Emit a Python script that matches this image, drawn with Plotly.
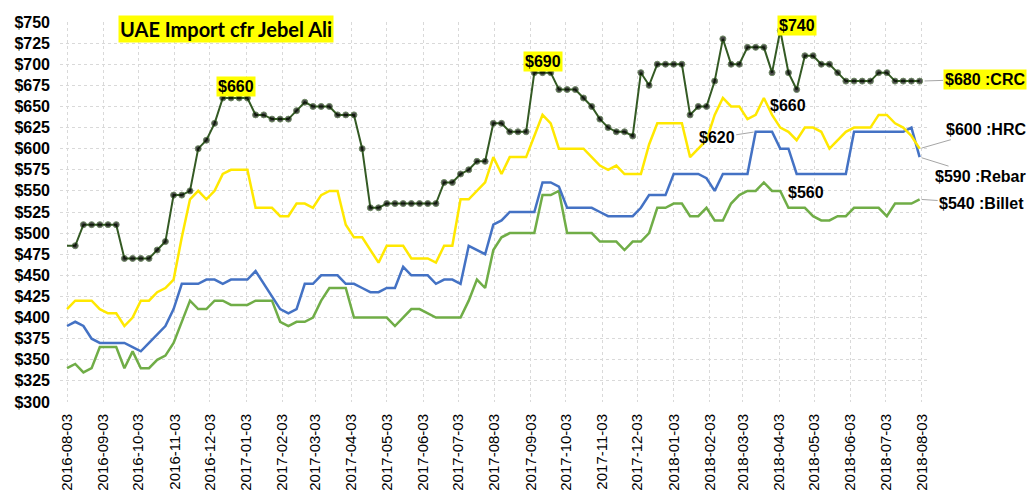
import plotly.graph_objects as go
import pandas as pd

# ---------------- data (weekly, starting 2016-08-03) ----------------
START_DATE = "2016-08-03"

crc = [485, 485, 510, 510, 510, 510, 510, 470, 470, 470,
       470, 480, 490, 545, 545, 550, 600, 610, 630, 660,
       660, 660, 660, 640, 640, 635, 635, 635, 645, 655,
       650, 650, 650, 640, 640, 640, 600, 530, 530, 535,
       535, 535, 535, 535, 535, 535, 560, 560, 570, 575,
       585, 585, 630, 630, 620, 620, 620, 690, 690, 690,
       670, 670, 670, 660, 650, 635, 625, 620, 620, 615,
       690, 675, 700, 700, 700, 700, 640, 650, 650, 680,
       730, 700, 700, 720, 720, 720, 690, 740, 690, 670,
       710, 710, 700, 700, 690, 680, 680, 680, 680, 690,
       690, 680, 680, 680, 680]

hrc = [410, 420, 420, 420, 410, 405, 405, 390, 400, 420,
       420, 430, 435, 445, 495, 540, 550, 540, 550, 570,
       575, 575, 575, 530, 530, 530, 520, 520, 535, 535,
       530, 545, 550, 550, 510, 495, 495, 480, 465, 485,
       485, 485, 470, 470, 470, 465, 485, 485, 540, 540,
       550, 560, 590, 570, 590, 590, 590, 615, 640, 630,
       600, 600, 600, 600, 590, 580, 575, 580, 570, 570,
       570, 605, 630, 630, 630, 630, 590, 600, 610, 640,
       660, 650, 650, 635, 640, 660, 640, 625, 620, 610,
       625, 625, 620, 600, 610, 620, 625, 625, 625, 640,
       640, 630, 625, 615, 600]

rebar = [390, 395, 390, 375, 370, 370, 370, 370, 365, 360,
         370, 380, 390, 410, 440, 440, 440, 445, 445, 440,
         445, 445, 445, 455, 440, 425, 410, 405, 410, 440,
         440, 450, 450, 450, 440, 440, 435, 430, 430, 435,
         435, 460, 450, 450, 450, 440, 445, 445, 440, 485,
         480, 475, 510, 515, 525, 525, 525, 525, 560, 560,
         555, 530, 530, 530, 530, 525, 520, 520, 520, 520,
         530, 545, 545, 545, 570, 570, 570, 570, 565, 550,
         570, 570, 570, 570, 620, 620, 620, 600, 600, 570,
         570, 570, 570, 570, 570, 570, 620, 620, 620, 620,
         620, 620, 620, 625, 590]

billet = [340, 345, 335, 340, 365, 365, 365, 340, 360, 340,
          340, 350, 355, 370, 395, 420, 410, 410, 420, 420,
          415, 415, 415, 420, 420, 420, 395, 390, 395, 395,
          400, 420, 435, 435, 435, 400, 400, 400, 400, 400,
          390, 400, 410, 410, 405, 400, 400, 400, 400, 420,
          445, 435, 480, 495, 500, 500, 500, 500, 545, 545,
          550, 500, 500, 500, 500, 490, 490, 490, 480, 490,
          490, 500, 530, 530, 535, 535, 520, 520, 530, 515,
          515, 535, 545, 550, 550, 560, 550, 550, 530, 530,
          530, 520, 515, 515, 520, 520, 530, 530, 530, 530,
          520, 535, 535, 535, 540]

dates = pd.date_range(START_DATE, periods=len(crc), freq="7D")

# ---------------- styling ----------------
FONT = "Liberation Sans"
C_CRC = "#345A24"
C_HRC = "#FFE800"
C_REBAR = "#4472C4"
C_BILLET = "#70AD47"
HILITE = "#FFFF00"
LEADER = "#A6A6A6"

fig = go.Figure()
fig.add_trace(go.Scatter(x=dates, y=billet, mode="lines", name="Billet",
                         line=dict(color=C_BILLET, width=2.5)))
fig.add_trace(go.Scatter(x=dates, y=rebar, mode="lines", name="Rebar",
                         line=dict(color=C_REBAR, width=2.5)))
fig.add_trace(go.Scatter(x=dates, y=hrc, mode="lines", name="HRC",
                         line=dict(color=C_HRC, width=2.5)))
fig.add_trace(go.Scatter(x=dates, y=crc, mode="lines+markers", name="CRC",
                         line=dict(color=C_CRC, width=2),
                         marker=dict(color="black", size=[0] + [6] * (len(crc) - 1))))

bold16 = dict(family=FONT, size=16, color="black")

ann = []
# title
ann.append(dict(xref="paper", yref="paper", x=0.1905, y=0.981,
                xanchor="center", yanchor="middle",
                text="<b>UAE Import cfr Jebel Ali</b>", showarrow=False,
                font=dict(family="Lato", size=20, color="black"),
                bgcolor=HILITE, borderpad=1))
# peak labels (highlighted)
ann.append(dict(x=dates[20], y=crc[20], text="<b>$660</b>", showarrow=False,
                xanchor="center", yanchor="bottom", xshift=5, yshift=1,
                font=bold16, bgcolor=HILITE, borderpad=1))
ann.append(dict(x=dates[58], y=crc[58], text="<b>$690</b>", showarrow=False,
                xanchor="center", yanchor="bottom", yshift=1,
                font=bold16, bgcolor=HILITE, borderpad=1))
ann.append(dict(x=dates[87], y=crc[87], text="<b>$740</b>", showarrow=False,
                xanchor="left", yanchor="middle", xshift=-3, yshift=5,
                font=bold16, bgcolor=HILITE, borderpad=1))
# plain labels
ann.append(dict(x=dates[85], y=hrc[85], text="<b>$660</b>", showarrow=False,
                xanchor="left", yanchor="middle", xshift=4, yshift=-7,
                font=bold16))
ann.append(dict(x=dates[85], y=billet[85], text="<b>$560</b>", showarrow=False,
                xanchor="left", yanchor="middle", xshift=22, yshift=-10,
                font=bold16))
ann.append(dict(x=dates[84], y=rebar[84], text="<b>$620</b>", showarrow=True,
                arrowhead=0, arrowwidth=1, arrowcolor=LEADER, ax=-39, ay=6,
                standoff=2, font=bold16))
# end labels
ann.append(dict(x=dates[-1], y=crc[-1], text="<b>$680 :CRC</b>", showarrow=True,
                arrowhead=0, arrowwidth=1, arrowcolor=LEADER, ax=65, ay=-2,
                standoff=5, font=bold16, bgcolor=HILITE, borderpad=1))
ann.append(dict(x=dates[-1], y=hrc[-1], text="<b>$600 :HRC</b>", showarrow=True,
                arrowhead=0, arrowwidth=1, arrowcolor=LEADER, ax=66, ay=-19,
                standoff=2, font=bold16))
ann.append(dict(x=dates[-1], y=rebar[-1], text="<b>$590 :Rebar</b>", showarrow=True,
                arrowhead=0, arrowwidth=1, arrowcolor=LEADER, ax=61, ay=19,
                standoff=2, font=bold16))
ann.append(dict(x=dates[-1], y=billet[-1], text="<b>$540 :Billet</b>", showarrow=True,
                arrowhead=0, arrowwidth=1, arrowcolor=LEADER, ax=62, ay=4,
                standoff=2, font=bold16))

fig.update_layout(
    width=1027, height=490,
    margin=dict(l=60, r=98, t=22, b=88),
    paper_bgcolor="white", plot_bgcolor="white",
    showlegend=False,
    annotations=ann,
    xaxis=dict(
        type="date", range=["2016-07-28", "2018-08-09"],
        tick0=START_DATE, dtick="M1", tickformat="%Y-%m-%d", tickangle=-90,
        tickfont=dict(family=FONT, size=15, color="black"),
        showgrid=True, gridcolor="#D9D9D9", griddash="dot", gridwidth=1,
        zeroline=False, showline=False, ticks="", ticklabelstandoff=8,
        automargin=False,
    ),
    yaxis=dict(
        range=[300, 750], tick0=300, dtick=25, tickprefix="$",
        tickfont=dict(family=FONT, size=16, color="black", weight="bold"),
        showgrid=True, gridcolor="#D9D9D9", griddash="dot", gridwidth=1,
        zeroline=False, showline=False, ticks="", ticklabelstandoff=9,
        automargin=False,
    ),
)

fig.write_html("out.html",
               config={"displayModeBar": False},
               post_script="document.body.style.margin='0px';"
                           "document.body.style.overflow='hidden';")
